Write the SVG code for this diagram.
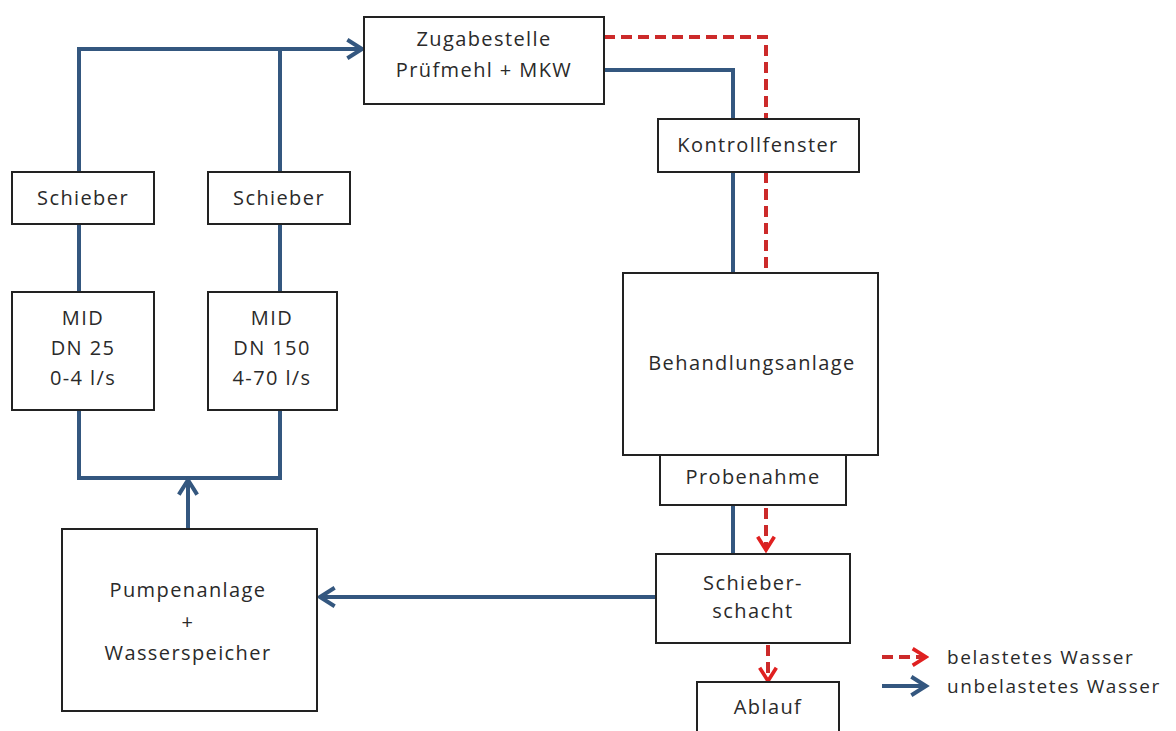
<svg xmlns="http://www.w3.org/2000/svg" width="1176" height="731" viewBox="0 0 1176 731">
<style>
.box{fill:#fff;stroke:#222;stroke-width:2}
.t{font-family:"Open Sans","Liberation Sans",sans-serif;font-size:20px;letter-spacing:1.4px;fill:#2a2a2a;text-anchor:middle}
.lt{font-family:"Open Sans","Liberation Sans",sans-serif;font-size:19px;letter-spacing:1.6px;fill:#2a2a2a}
.blue{fill:none;stroke:#34577f;stroke-width:4}
.red{fill:none;stroke:#cc2a2a;stroke-width:4;stroke-dasharray:11 6}
</style>
<defs>
<marker id="ab" viewBox="0 0 12 12" refX="10" refY="6" markerWidth="5.5" markerHeight="5.5" orient="auto" markerUnits="strokeWidth">
<path d="M2,1 L10,6 L2,11" fill="none" stroke="#34577f" stroke-width="2.2"/>
</marker>
<marker id="ar" viewBox="0 0 12 12" refX="10" refY="6" markerWidth="5" markerHeight="5" orient="auto" markerUnits="strokeWidth">
<path d="M2,1 L10,6 L2,11" fill="none" stroke="#e02020" stroke-width="2.2"/>
</marker>
</defs>
<rect width="1176" height="731" fill="#fff"/>
<g id="connectors">
<path class="blue" d="M79,172 V49 H362" marker-end="url(#ab)"/>
<path class="blue" d="M280,172 V49"/>
<path class="blue" d="M79,224 V292"/>
<path class="blue" d="M280,224 V292"/>
<path class="blue" d="M79,410 V478 H280 V410"/>
<path class="blue" d="M188,529 V480" marker-end="url(#ab)"/>
<path class="blue" d="M604,70 H733 V119"/>
<path class="blue" d="M733,172 V273"/>
<path class="red" d="M604,37 H766 V119"/>
<path class="red" d="M766,172 V273"/>
<path class="blue" d="M733,505 V554"/>
<path class="red" d="M766,508 V550" marker-end="url(#ar)"/>
<path class="red" d="M768,645 V681" marker-end="url(#ar)"/>
<path class="blue" d="M656,597 H320" marker-end="url(#ab)"/>
</g>
<g id="zugabestelle"><rect class="box" x="364" y="17" width="240" height="87"/><text class="t" x="484" y="46">Zugabestelle</text><text class="t" x="484" y="77">Prüfmehl + MKW</text></g>
<g id="schieber1"><rect class="box" x="12" y="172" width="142" height="52"/><text class="t" x="83" y="205">Schieber</text></g>
<g id="schieber2"><rect class="box" x="208" y="172" width="142" height="52"/><text class="t" x="279" y="205">Schieber</text></g>
<g id="mid1"><rect class="box" x="12" y="292" width="142" height="118"/><text class="t" x="83" y="325">MID</text><text class="t" x="83" y="355">DN 25</text><text class="t" x="83" y="385">0-4 l/s</text></g>
<g id="mid2"><rect class="box" x="208" y="292" width="129" height="118"/><text class="t" x="272" y="325">MID</text><text class="t" x="272" y="355">DN 150</text><text class="t" x="272" y="385">4-70 l/s</text></g>
<g id="pumpenanlage"><rect class="box" x="62" y="529" width="255" height="182"/><text class="t" x="188" y="597">Pumpenanlage</text><text class="t" x="188" y="629">+</text><text class="t" x="188" y="660">Wasserspeicher</text></g>
<g id="kontrollfenster"><rect class="box" x="658" y="119" width="201" height="53"/><text class="t" x="758" y="152">Kontrollfenster</text></g>
<g id="behandlungsanlage"><rect class="box" x="623" y="273" width="255" height="182"/><text class="t" x="752" y="370">Behandlungsanlage</text></g>
<g id="probenahme"><rect class="box" x="660" y="455" width="186" height="50"/><text class="t" x="753" y="484">Probenahme</text></g>
<g id="schieberschacht"><rect class="box" x="656" y="554" width="194" height="89"/><text class="t" x="753" y="590">Schieber-</text><text class="t" x="753" y="618">schacht</text></g>
<g id="ablauf"><rect class="box" x="697" y="682" width="142" height="52"/><text class="t" x="768" y="714">Ablauf</text></g>
<g id="legend">
<path class="red" d="M882,657 H926" stroke-dasharray="8 5" marker-end="url(#ar)"/>
<text class="lt" x="947" y="664">belastetes Wasser</text>
<path class="blue" d="M882,686 H926" marker-end="url(#ab)"/>
<text class="lt" x="947" y="693">unbelastetes Wasser</text>
</g>
</svg>
